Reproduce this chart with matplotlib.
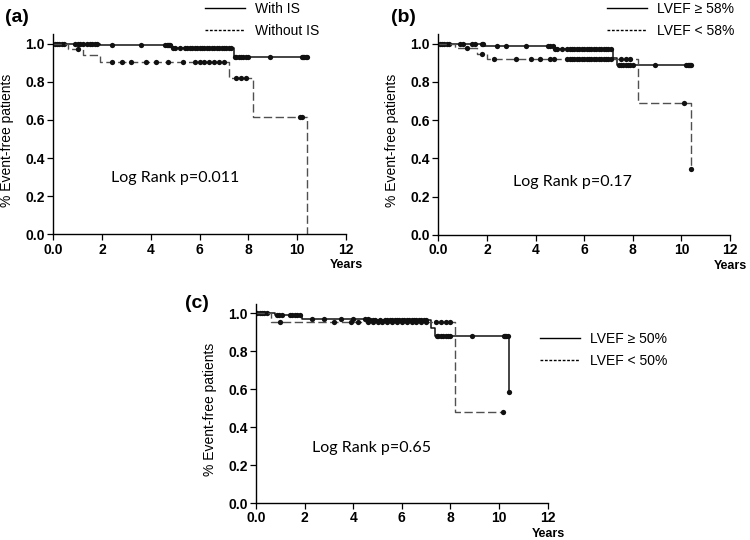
import numpy as np
import matplotlib
matplotlib.use("Agg")
import matplotlib.pyplot as plt
from matplotlib.lines import Line2D

plt.rcParams['font.family'] = ['Liberation Sans', 'DejaVu Sans']

# ---- data ----
xticks = [0, 2, 4, 6, 8, 10, 12]
xtick_labels = ['0.0', '2', '4', '6', '8', '10', '12']
yticks = [0.0, 0.2, 0.4, 0.6, 0.8, 1.0]
ytick_labels = ['0.0', '0.2', '0.4', '0.6', '0.8', '1.0']

# (a) immunosuppression
a_with_t = [0, 1.9, 4.85, 7.4, 10.4]
a_with_s = [1.0, 0.99, 0.977, 0.93, 0.93]
a_with_cens = [0.05, 0.15, 0.25, 0.35, 0.45, 0.9, 1.0, 1.1, 1.2, 1.4, 1.5, 1.6, 1.7, 1.8,
               2.4, 3.6, 4.6, 4.65, 4.7, 4.75, 4.8, 4.9, 5.0, 5.2, 5.4, 5.5, 5.6, 5.7, 5.8,
               5.9, 6.0, 6.1, 6.2, 6.3, 6.4, 6.5, 6.6, 6.7, 6.8, 6.9, 7.0, 7.1, 7.2, 7.3,
               7.45, 7.5, 7.6, 7.7, 7.8, 7.9, 8.0, 8.9, 10.2, 10.25, 10.3, 10.35, 10.4]
a_without_t = [0, 0.6, 1.2, 1.9, 7.2, 8.2, 10.4]
a_without_s = [1.0, 0.97, 0.94, 0.905, 0.82, 0.615, 0.0]
a_without_cens = [1.0, 2.4, 2.8, 3.2, 3.8, 4.2, 4.7, 5.3, 5.8, 6.0, 6.2, 6.4, 6.6, 6.8,
                  7.0, 7.5, 7.7, 7.9, 10.1, 10.2]

# (b) LVEF 58%
b_hi_t = [0, 1.9, 4.8, 7.2, 7.35, 10.4]
b_hi_s = [1.0, 0.986, 0.974, 0.925, 0.89, 0.89]
b_hi_cens = [0.05, 0.15, 0.25, 0.35, 0.45, 0.9, 1.0, 1.4, 1.5, 1.8, 1.85, 2.4, 2.8, 3.6,
             4.5, 4.6, 4.7, 4.8, 4.9, 5.1, 5.3, 5.4, 5.5, 5.6, 5.7, 5.8, 5.9, 6.0, 6.1,
             6.2, 6.3, 6.4, 6.5, 6.6, 6.7, 6.8, 6.9, 7.0, 7.1, 7.45, 7.5, 7.6, 7.7, 7.8,
             7.9, 8.0, 8.9, 10.2, 10.25, 10.3, 10.35, 10.4]
b_lo_t = [0, 0.7, 1.6, 2.0, 8.2, 10.4]
b_lo_s = [1.0, 0.977, 0.943, 0.92, 0.69, 0.345]
b_lo_cens = [1.2, 1.8, 2.3, 3.2, 3.8, 4.2, 4.6, 4.75, 5.3, 5.4, 5.5, 5.6, 5.7, 5.8, 5.9,
             6.0, 6.1, 6.2, 6.3, 6.4, 6.5, 6.6, 6.7, 6.8, 6.9, 7.0, 7.1, 7.5, 7.7, 7.9,
             10.1, 10.4]

# (c) LVEF 50%
c_hi_t = [0, 0.8, 1.9, 4.7, 7.2, 7.35, 10.4]
c_hi_s = [1.0, 0.99, 0.97, 0.963, 0.92, 0.88, 0.585]
c_hi_cens = [0.05, 0.15, 0.25, 0.35, 0.45, 0.85, 0.95, 1.05, 1.4, 1.5, 1.6, 1.7, 1.8,
             2.3, 2.8, 3.5, 4.0, 4.5, 4.6, 4.7, 4.8, 4.9, 5.1, 5.3, 5.4, 5.5, 5.6, 5.7,
             5.8, 5.9, 6.0, 6.1, 6.2, 6.3, 6.4, 6.5, 6.6, 6.7, 6.8, 6.9, 7.0, 7.45, 7.5,
             7.6, 7.7, 7.8, 7.9, 8.0, 8.9, 10.2, 10.25, 10.3, 10.35, 10.4]
c_lo_t = [0, 0.6, 8.2, 10.15]
c_lo_s = [1.0, 0.956, 0.478, 0.478]
c_lo_cens = [1.0, 3.2, 3.9, 4.2, 4.6, 4.8, 5.0, 5.2, 5.4, 5.6, 5.8, 6.0, 6.2, 6.4, 6.6,
             6.8, 7.0, 7.4, 7.6, 7.8, 8.0, 10.15]


def step_value(t, s, x):
    idx = np.searchsorted(t, x, side='right') - 1
    return np.asarray(s)[idx]


def km(ax, t, s, cens, dashed):
    if dashed:
        ax.step(t, s, where='post', color='#505050', lw=1.0, dashes=(6, 2.5))
    else:
        ax.step(t, s, where='post', color='#111111', lw=1.1)
    ax.plot(cens, step_value(t, s, cens), 'o', color='#111111', ms=3.8, mew=0)


def panel(rect, tag, tag_xy, pval, p_xy, curves, labels, leg_xy):
    ax = fig.add_axes(rect)
    for t, s, cens, dashed in curves:
        km(ax, t, s, cens, dashed)
    ax.set_xlim(0, 12)
    ax.set_ylim(0, 1.05)
    ax.set_xticks(xticks)
    ax.set_xticklabels(xtick_labels, fontweight='bold')
    ax.set_yticks(yticks)
    ax.set_yticklabels(ytick_labels, fontweight='bold')
    ax.tick_params(direction='out', length=4, width=0.9, labelsize=10, pad=2)
    for side in ['top', 'right']:
        ax.spines[side].set_visible(False)
    for side in ['left', 'bottom']:
        ax.spines[side].set_linewidth(1.0)
    ax.set_ylabel('% Event-free patients', fontsize=10)
    ax.yaxis.set_label_coords(-0.133, 0.47)
    ax.text(1.003, -0.155, 'Years', transform=ax.transAxes, fontsize=9,
            fontweight='bold', ha='center', va='center')
    fig.text(tag_xy[0], tag_xy[1], tag, fontsize=14, fontweight='bold',
             ha='left', va='center')
    fig.text(p_xy[0], p_xy[1], pval, fontsize=11.5, family=['Lato', 'DejaVu Sans'],
             ha='center', va='center')
    handles = [Line2D([], [], color='black', lw=1.0),
               Line2D([], [], color='black', lw=1.0, dashes=(2, 1.2))]
    ax.legend(handles, labels, loc='center left', bbox_to_anchor=leg_xy,
              bbox_transform=fig.transFigure, frameon=False, fontsize=10,
              handlelength=2.9, handletextpad=0.7, labelspacing=0.55,
              borderpad=0, borderaxespad=0)
    return ax


fig = plt.figure(figsize=(7.5, 5.4), dpi=100)

panel([0.0711, 0.566, 0.390, 0.371], '(a)', (0.006, 0.968), 'Log Rank p=0.011',
      (175 / 750, 1 - 178 / 540),
      [(a_with_t, a_with_s, a_with_cens, False),
       (a_without_t, a_without_s, a_without_cens, True)],
      ['With IS', 'Without IS'], (205 / 750, 1 - 20 / 540))

panel([0.5844, 0.565, 0.389, 0.372], '(b)', (0.522, 0.968), 'Log Rank p=0.17',
      (572 / 750, 1 - 182 / 540),
      [(b_hi_t, b_hi_s, b_hi_cens, False),
       (b_lo_t, b_lo_s, b_lo_cens, True)],
      ['LVEF \u2265 58%', 'LVEF < 58%'], (607 / 750, 1 - 20 / 540))

panel([0.3413, 0.0685, 0.389, 0.369], '(c)', (0.246, 1 - 303 / 540), 'Log Rank p=0.65',
      (372 / 750, 1 - 448 / 540),
      [(c_hi_t, c_hi_s, c_hi_cens, False),
       (c_lo_t, c_lo_s, c_lo_cens, True)],
      ['LVEF \u2265 50%', 'LVEF < 50%'], (540 / 750, 1 - 350 / 540))

plt.savefig('out.png', dpi=100)
